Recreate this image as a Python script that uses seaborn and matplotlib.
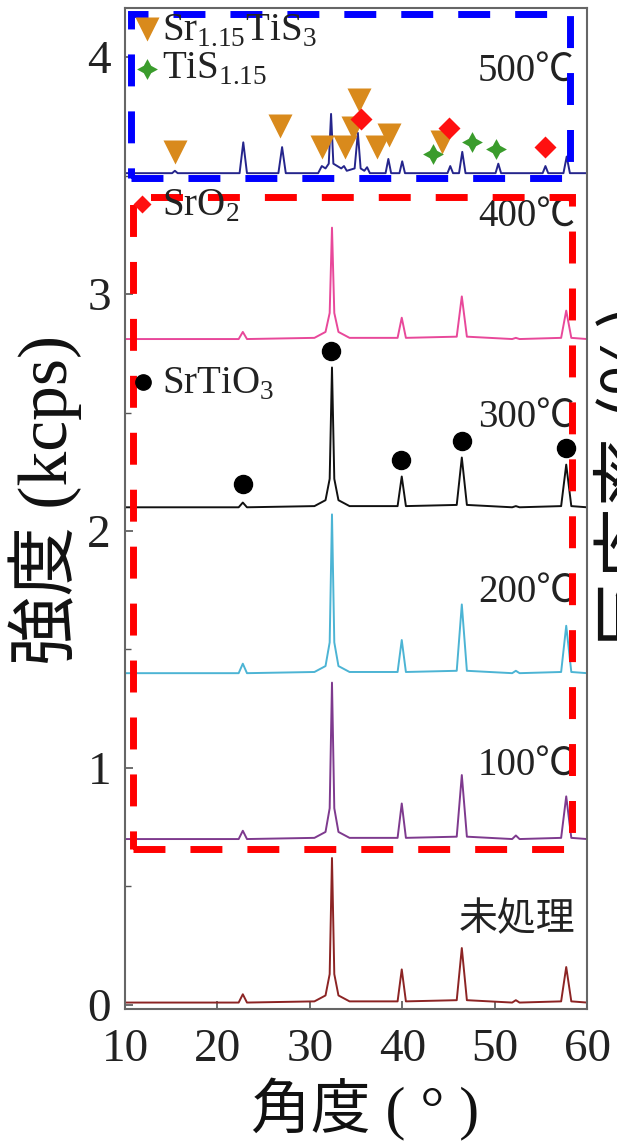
import matplotlib
matplotlib.use("Agg")
import matplotlib.pyplot as plt
from matplotlib.patches import Rectangle
import seaborn as sns

# ==================================================
# DATA (kcps, already stacked)
# ==================================================

angle = [10, 22.3, 22.75, 23.2, 30.5, 31.7, 32.15, 32.4, 32.65, 33.1, 34.3,
         39.5, 39.95, 40.4, 45.9, 46.45, 47.0, 51.9, 52.3, 52.7,
         57.2, 57.75, 58.3, 60]

raw = [0.01, 0.01, 0.045, 0.01, 0.015, 0.04, 0.13, 0.62, 0.13, 0.04, 0.015,
       0.015, 0.15, 0.015, 0.02, 0.24, 0.02, 0.01, 0.02, 0.01,
       0.015, 0.16, 0.015, 0.01]
t100 = [0.70, 0.70, 0.735, 0.70, 0.705, 0.73, 0.83, 1.36, 0.83, 0.73, 0.705,
        0.705, 0.85, 0.705, 0.71, 0.97, 0.71, 0.70, 0.715, 0.70,
        0.705, 0.88, 0.705, 0.70]
t200 = [1.40, 1.40, 1.44, 1.40, 1.405, 1.43, 1.53, 2.07, 1.53, 1.43, 1.405,
        1.405, 1.54, 1.405, 1.41, 1.69, 1.41, 1.40, 1.41, 1.40,
        1.405, 1.60, 1.405, 1.40]
t300 = [2.10, 2.10, 2.12, 2.10, 2.105, 2.13, 2.22, 2.69, 2.22, 2.13, 2.105,
        2.105, 2.23, 2.105, 2.11, 2.31, 2.11, 2.10, 2.105, 2.10,
        2.105, 2.28, 2.105, 2.10]
t400 = [2.81, 2.81, 2.84, 2.81, 2.815, 2.84, 2.92, 3.28, 2.92, 2.84, 2.815,
        2.815, 2.90, 2.815, 2.82, 2.99, 2.82, 2.81, 2.815, 2.81,
        2.815, 2.93, 2.815, 2.81]

angle_500 = [10, 15.1, 15.4, 15.7, 22.4, 22.8, 23.2, 26.6, 27.0, 27.4,
             30.9, 31.3, 31.7, 32.05, 32.3, 32.55, 33.4, 33.7, 34.0,
             34.85, 35.2, 35.5, 35.9, 36.2, 36.5, 38.2, 38.5, 38.8,
             39.7, 40.0, 40.3, 44.9, 45.2, 45.5, 46.15, 46.5, 46.85,
             50.1, 50.4, 50.7, 55.2, 55.5, 55.8, 57.45, 57.8, 58.15, 60]
t500 = [3.51, 3.51, 3.52, 3.51, 3.51, 3.64, 3.51, 3.51, 3.62, 3.51,
        3.51, 3.54, 3.53, 3.55, 3.76, 3.55, 3.53, 3.54, 3.52,
        3.53, 3.68, 3.53, 3.52, 3.535, 3.51, 3.51, 3.57, 3.51,
        3.51, 3.56, 3.51, 3.51, 3.54, 3.51, 3.51, 3.60, 3.51,
        3.51, 3.55, 3.51, 3.51, 3.54, 3.51, 3.51, 3.58, 3.51, 3.51]

labels = ["未処理", "100℃", "200℃", "300℃", "400℃", "500℃"]
label_y = [0.36, 1.01, 1.74, 2.48, 3.33, 3.94]
colors = ["#8c2424", "#7e3a8e", "#4cb4d4", "#111111", "#e8489a", "#25258c"]

# phase markers
sts_x = [15.4, 26.8, 31.3, 33.8, 34.7, 35.3, 37.3, 38.6, 44.3]
sts_y = [3.60, 3.71, 3.62, 3.62, 3.70, 3.82, 3.62, 3.67, 3.64]
tis_x = [43.3, 47.6, 50.1]
tis_y = [3.59, 3.64, 3.61]
sro2_x = [35.5, 45.1, 55.5]
sro2_y = [3.74, 3.70, 3.62]
sto_x = [22.8, 32.3, 39.9, 46.5, 57.7]
sto_y = [2.20, 2.76, 2.30, 2.38, 2.35]

# ==================================================
# STYLE
# ==================================================

sns.set_style("ticks")
plt.rcParams["font.family"] = ["Liberation Serif", "Noto Sans CJK JP"]
plt.rcParams["mathtext.fontset"] = "custom"
plt.rcParams["mathtext.rm"] = "Liberation Serif"
plt.rcParams["xtick.direction"] = "in"
plt.rcParams["ytick.direction"] = "in"

fig = plt.figure(figsize=(6.17, 11.42), dpi=100)
ax = fig.add_axes([0.2026, 0.1165, 0.7488, 0.8765])

# ==================================================
# CURVES
# ==================================================

series = [(angle, raw), (angle, t100), (angle, t200),
          (angle, t300), (angle, t400), (angle_500, t500)]

for (xs, ys), c in zip(series, colors):
    sns.lineplot(x=xs, y=ys, color=c, lw=1.4, ax=ax,
                 estimator=None, sort=False, legend=False)

for lab, yy in zip(labels, label_y):
    fam = ["Noto Sans CJK JP"] if lab == "未処理" else None
    ax.text(58.7, yy, lab, ha="right", va="center", fontsize=28,
            color="#222222", family=fam)

# ==================================================
# DASHED BOXES
# ==================================================

ax.add_patch(Rectangle((10.65, 3.49), 47.55, 0.69, fill=False,
                       ec="#0000ff", lw=5, ls=(0, (4.6, 3.6)),
                       clip_on=False, zorder=4))
ax.add_patch(Rectangle((10.87, 0.66), 47.53, 2.75, fill=False,
                       ec="#ff0000", lw=5, ls=(0, (4.6, 3.6)),
                       clip_on=False, zorder=4))

# ==================================================
# PHASE MARKERS
# ==================================================

ax.plot(sts_x, sts_y, "v", color="#d98a1c", ms=17, mec="none", zorder=5)
ax.plot(tis_x, tis_y, marker=(4, 1, 0), ls="none", color="#3a9c2c",
        ms=15, mec="none", zorder=5)
ax.plot(sro2_x, sro2_y, "D", color="#ff1010", ms=11, mec="none", zorder=6)
ax.plot(sto_x, sto_y, "o", color="black", ms=13, zorder=5)

# legend-like keys
ax.plot([12.4], [4.12], "v", color="#d98a1c", ms=17, mec="none", zorder=6)
ax.plot([12.4], [3.95], marker=(4, 1, 0), color="#3a9c2c", ms=15,
        mec="none", zorder=6)
ax.plot([11.8], [3.38], "D", color="#ff1010", ms=9, mec="none", zorder=6)
ax.plot([11.95], [2.63], "o", color="black", ms=11, zorder=6)

ax.text(14.0, 4.11, r"Sr$_\mathregular{1.15}$TiS$_\mathregular{3}$",
        fontsize=28, va="center", color="#222222", zorder=7)
ax.text(14.0, 3.95, r"TiS$_\mathregular{1.15}$", fontsize=28,
        va="center", color="#222222", zorder=7)
ax.text(14.0, 3.37, r"SrO$_\mathregular{2}$", fontsize=28,
        va="center", color="#222222", zorder=7)
ax.text(14.0, 2.62, r"SrTiO$_\mathregular{3}$", fontsize=28,
        va="center", color="#222222", zorder=7)

# ==================================================
# AXES
# ==================================================

ax.set_xlim(10, 60)
ax.set_ylim(-0.017, 4.207)
ax.set_xticks([10, 20, 30, 40, 50, 60])
ax.set_yticks([0, 1, 2, 3, 4])
ax.set_yticks([0.5, 1.5, 2.5, 3.5], minor=True)
ax.tick_params(axis="both", which="major", labelsize=34, length=6,
               width=1.2, color="#555555", labelcolor="#222222")
ax.tick_params(axis="x", pad=14)
ax.tick_params(axis="y", pad=10)
ax.tick_params(axis="y", which="minor", length=4, width=1.0, color="#555555")
for sp in ax.spines.values():
    sp.set_visible(True)
    sp.set_color("#666666")
    sp.set_linewidth(1.5)

fig.text(45 / 617, 1 - 500 / 1142, "強度 (kcps)", rotation=90,
         ha="center", va="center", fontsize=50, color="#111111")
fig.text(365 / 617, 1 - 1110 / 1142, "角度 ( ° )", ha="center",
         va="center", fontsize=43, color="#111111")

# clipped label of the neighbouring panel
fig.text(596 / 617, 1 - 478 / 1142, "反応率 (%)", rotation=90,
         ha="left", va="center", fontsize=52, color="#111111",
         family=["Noto Sans CJK JP"])

plt.savefig("out.png", dpi=100)
